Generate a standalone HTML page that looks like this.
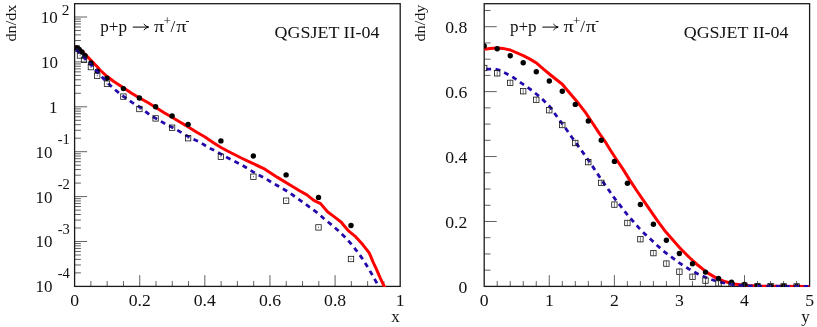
<!DOCTYPE html>
<html><head><meta charset="utf-8"><title>plot</title>
<style>
html,body{margin:0;padding:0;background:#fff;}
body{width:817px;height:327px;overflow:hidden;}
svg{display:block;will-change:transform;}
text{font-family:"Liberation Serif",serif;fill:#111;}
</style></head><body>
<svg width="817" height="327" viewBox="0 0 817 327">
<rect width="817" height="327" fill="#fff"/>
<defs><clipPath id="c1"><rect x="74.6" y="3.7" width="325.6" height="283.3"/></clipPath><clipPath id="c2"><rect x="484.2" y="3.7" width="325.4" height="283.3"/></clipPath></defs>
<g stroke="#444" stroke-width="0.85" fill="none">
<line x1="74.6" x2="80.89999999999999" y1="272.88" y2="272.88"/>
<line x1="74.6" x2="80.89999999999999" y1="264.98" y2="264.98"/>
<line x1="74.6" x2="80.89999999999999" y1="259.37" y2="259.37"/>
<line x1="74.6" x2="80.89999999999999" y1="255.02" y2="255.02"/>
<line x1="74.6" x2="80.89999999999999" y1="251.46" y2="251.46"/>
<line x1="74.6" x2="80.89999999999999" y1="248.46" y2="248.46"/>
<line x1="74.6" x2="80.89999999999999" y1="245.85" y2="245.85"/>
<line x1="74.6" x2="80.89999999999999" y1="243.55" y2="243.55"/>
<line x1="74.6" x2="87.1" y1="241.50" y2="241.50"/>
<line x1="74.6" x2="80.89999999999999" y1="227.98" y2="227.98"/>
<line x1="74.6" x2="80.89999999999999" y1="220.08" y2="220.08"/>
<line x1="74.6" x2="80.89999999999999" y1="214.47" y2="214.47"/>
<line x1="74.6" x2="80.89999999999999" y1="210.12" y2="210.12"/>
<line x1="74.6" x2="80.89999999999999" y1="206.56" y2="206.56"/>
<line x1="74.6" x2="80.89999999999999" y1="203.56" y2="203.56"/>
<line x1="74.6" x2="80.89999999999999" y1="200.95" y2="200.95"/>
<line x1="74.6" x2="80.89999999999999" y1="198.65" y2="198.65"/>
<line x1="74.6" x2="87.1" y1="196.60" y2="196.60"/>
<line x1="74.6" x2="80.89999999999999" y1="183.08" y2="183.08"/>
<line x1="74.6" x2="80.89999999999999" y1="175.18" y2="175.18"/>
<line x1="74.6" x2="80.89999999999999" y1="169.57" y2="169.57"/>
<line x1="74.6" x2="80.89999999999999" y1="165.22" y2="165.22"/>
<line x1="74.6" x2="80.89999999999999" y1="161.66" y2="161.66"/>
<line x1="74.6" x2="80.89999999999999" y1="158.66" y2="158.66"/>
<line x1="74.6" x2="80.89999999999999" y1="156.05" y2="156.05"/>
<line x1="74.6" x2="80.89999999999999" y1="153.75" y2="153.75"/>
<line x1="74.6" x2="87.1" y1="151.70" y2="151.70"/>
<line x1="74.6" x2="80.89999999999999" y1="138.18" y2="138.18"/>
<line x1="74.6" x2="80.89999999999999" y1="130.28" y2="130.28"/>
<line x1="74.6" x2="80.89999999999999" y1="124.67" y2="124.67"/>
<line x1="74.6" x2="80.89999999999999" y1="120.32" y2="120.32"/>
<line x1="74.6" x2="80.89999999999999" y1="116.76" y2="116.76"/>
<line x1="74.6" x2="80.89999999999999" y1="113.76" y2="113.76"/>
<line x1="74.6" x2="80.89999999999999" y1="111.15" y2="111.15"/>
<line x1="74.6" x2="80.89999999999999" y1="108.85" y2="108.85"/>
<line x1="74.6" x2="87.1" y1="106.80" y2="106.80"/>
<line x1="74.6" x2="80.89999999999999" y1="93.28" y2="93.28"/>
<line x1="74.6" x2="80.89999999999999" y1="85.38" y2="85.38"/>
<line x1="74.6" x2="80.89999999999999" y1="79.77" y2="79.77"/>
<line x1="74.6" x2="80.89999999999999" y1="75.42" y2="75.42"/>
<line x1="74.6" x2="80.89999999999999" y1="71.86" y2="71.86"/>
<line x1="74.6" x2="80.89999999999999" y1="68.86" y2="68.86"/>
<line x1="74.6" x2="80.89999999999999" y1="66.25" y2="66.25"/>
<line x1="74.6" x2="80.89999999999999" y1="63.95" y2="63.95"/>
<line x1="74.6" x2="87.1" y1="61.90" y2="61.90"/>
<line x1="74.6" x2="80.89999999999999" y1="48.38" y2="48.38"/>
<line x1="74.6" x2="80.89999999999999" y1="40.48" y2="40.48"/>
<line x1="74.6" x2="80.89999999999999" y1="34.87" y2="34.87"/>
<line x1="74.6" x2="80.89999999999999" y1="30.52" y2="30.52"/>
<line x1="74.6" x2="80.89999999999999" y1="26.96" y2="26.96"/>
<line x1="74.6" x2="80.89999999999999" y1="23.96" y2="23.96"/>
<line x1="74.6" x2="80.89999999999999" y1="21.35" y2="21.35"/>
<line x1="74.6" x2="80.89999999999999" y1="19.05" y2="19.05"/>
<line x1="74.6" x2="87.1" y1="17.00" y2="17.00"/>
<line x1="90.88" x2="90.88" y1="286.4" y2="281.09999999999997"/>
<line x1="107.16" x2="107.16" y1="286.4" y2="281.09999999999997"/>
<line x1="123.44" x2="123.44" y1="286.4" y2="281.09999999999997"/>
<line x1="139.72" x2="139.72" y1="286.4" y2="275.09999999999997"/>
<line x1="156.00" x2="156.00" y1="286.4" y2="281.09999999999997"/>
<line x1="172.28" x2="172.28" y1="286.4" y2="281.09999999999997"/>
<line x1="188.56" x2="188.56" y1="286.4" y2="281.09999999999997"/>
<line x1="204.84" x2="204.84" y1="286.4" y2="275.09999999999997"/>
<line x1="221.12" x2="221.12" y1="286.4" y2="281.09999999999997"/>
<line x1="237.40" x2="237.40" y1="286.4" y2="281.09999999999997"/>
<line x1="253.68" x2="253.68" y1="286.4" y2="281.09999999999997"/>
<line x1="269.96" x2="269.96" y1="286.4" y2="275.09999999999997"/>
<line x1="286.24" x2="286.24" y1="286.4" y2="281.09999999999997"/>
<line x1="302.52" x2="302.52" y1="286.4" y2="281.09999999999997"/>
<line x1="318.80" x2="318.80" y1="286.4" y2="281.09999999999997"/>
<line x1="335.08" x2="335.08" y1="286.4" y2="275.09999999999997"/>
<line x1="351.36" x2="351.36" y1="286.4" y2="281.09999999999997"/>
<line x1="367.64" x2="367.64" y1="286.4" y2="281.09999999999997"/>
<line x1="383.92" x2="383.92" y1="286.4" y2="281.09999999999997"/>
<line x1="484.2" x2="490.5" y1="270.17" y2="270.17"/>
<line x1="484.2" x2="490.5" y1="253.94" y2="253.94"/>
<line x1="484.2" x2="490.5" y1="237.71" y2="237.71"/>
<line x1="484.2" x2="496.7" y1="221.47" y2="221.47"/>
<line x1="484.2" x2="490.5" y1="205.24" y2="205.24"/>
<line x1="484.2" x2="490.5" y1="189.01" y2="189.01"/>
<line x1="484.2" x2="490.5" y1="172.78" y2="172.78"/>
<line x1="484.2" x2="496.7" y1="156.55" y2="156.55"/>
<line x1="484.2" x2="490.5" y1="140.32" y2="140.32"/>
<line x1="484.2" x2="490.5" y1="124.09" y2="124.09"/>
<line x1="484.2" x2="490.5" y1="107.86" y2="107.86"/>
<line x1="484.2" x2="496.7" y1="91.62" y2="91.62"/>
<line x1="484.2" x2="490.5" y1="75.39" y2="75.39"/>
<line x1="484.2" x2="490.5" y1="59.16" y2="59.16"/>
<line x1="484.2" x2="490.5" y1="42.93" y2="42.93"/>
<line x1="484.2" x2="496.7" y1="26.70" y2="26.70"/>
<line x1="484.2" x2="490.5" y1="10.47" y2="10.47"/>
<line x1="497.22" x2="497.22" y1="286.4" y2="281.09999999999997"/>
<line x1="510.23" x2="510.23" y1="286.4" y2="281.09999999999997"/>
<line x1="523.25" x2="523.25" y1="286.4" y2="281.09999999999997"/>
<line x1="536.26" x2="536.26" y1="286.4" y2="281.09999999999997"/>
<line x1="549.28" x2="549.28" y1="286.4" y2="275.09999999999997"/>
<line x1="562.30" x2="562.30" y1="286.4" y2="281.09999999999997"/>
<line x1="575.31" x2="575.31" y1="286.4" y2="281.09999999999997"/>
<line x1="588.33" x2="588.33" y1="286.4" y2="281.09999999999997"/>
<line x1="601.34" x2="601.34" y1="286.4" y2="281.09999999999997"/>
<line x1="614.36" x2="614.36" y1="286.4" y2="275.09999999999997"/>
<line x1="627.38" x2="627.38" y1="286.4" y2="281.09999999999997"/>
<line x1="640.39" x2="640.39" y1="286.4" y2="281.09999999999997"/>
<line x1="653.41" x2="653.41" y1="286.4" y2="281.09999999999997"/>
<line x1="666.42" x2="666.42" y1="286.4" y2="281.09999999999997"/>
<line x1="679.44" x2="679.44" y1="286.4" y2="275.09999999999997"/>
<line x1="692.46" x2="692.46" y1="286.4" y2="281.09999999999997"/>
<line x1="705.47" x2="705.47" y1="286.4" y2="281.09999999999997"/>
<line x1="718.49" x2="718.49" y1="286.4" y2="281.09999999999997"/>
<line x1="731.50" x2="731.50" y1="286.4" y2="281.09999999999997"/>
<line x1="744.52" x2="744.52" y1="286.4" y2="275.09999999999997"/>
<line x1="757.54" x2="757.54" y1="286.4" y2="281.09999999999997"/>
<line x1="770.55" x2="770.55" y1="286.4" y2="281.09999999999997"/>
<line x1="783.57" x2="783.57" y1="286.4" y2="281.09999999999997"/>
<line x1="796.58" x2="796.58" y1="286.4" y2="281.09999999999997"/>
</g>
<g fill="none" stroke="#1a1a1a" stroke-width="1.3">
<rect x="74.6" y="3.7" width="325.6" height="282.7"/>
<rect x="484.2" y="3.7" width="325.4" height="282.7"/>
</g>
<g clip-path="url(#c1)">
<path d="M74.6,46.2 L77.5,47.8 L81.0,50.5 L84.1,53.2 L88.3,57.6 L93.3,62.8 L97.5,67.0 L100.0,70.0 L106.9,76.3 L113.8,81.5 L123.4,87.7 L131.6,93.2 L139.6,98.0 L148.2,102.8 L155.8,107.5 L163.8,112.5 L172.0,117.3 L180.3,122.2 L188.3,126.9 L196.8,132.2 L205.0,137.0 L213.8,143.0 L220.6,147.2 L227.5,151.0 L241.3,158.0 L250.0,162.1 L263.8,168.6 L277.5,177.4 L291.3,185.8 L300.0,191.0 L306.9,194.9 L313.8,200.4 L320.6,203.6 L327.5,211.8 L334.4,216.9 L341.3,222.2 L343.5,225.0 L348.8,231.2 L355.6,236.7 L362.5,244.3 L369.4,253.2 L373.0,261.9 L376.5,269.3 L380.3,278.1 L384.2,286.4 L385.0,288.0" fill="none" stroke="#ff0000" stroke-width="3.0" stroke-linejoin="round"/>
<circle cx="76.9" cy="47.9" r="2.7" fill="#000"/><circle cx="79.2" cy="49.4" r="2.7" fill="#000"/><circle cx="81.9" cy="52.0" r="2.7" fill="#000"/><circle cx="85.1" cy="55.8" r="2.7" fill="#000"/><circle cx="90.9" cy="62.9" r="2.7" fill="#000"/><circle cx="97.2" cy="71.1" r="2.7" fill="#000"/><circle cx="106.9" cy="78.2" r="2.7" fill="#000"/><circle cx="123.4" cy="88.6" r="2.7" fill="#000"/><circle cx="139.4" cy="98.0" r="2.7" fill="#000"/><circle cx="155.6" cy="106.8" r="2.7" fill="#000"/><circle cx="172.1" cy="115.9" r="2.7" fill="#000"/><circle cx="188.1" cy="124.4" r="2.7" fill="#000"/><circle cx="220.9" cy="140.9" r="2.7" fill="#000"/><circle cx="253.4" cy="156.0" r="2.7" fill="#000"/><circle cx="286.1" cy="174.9" r="2.7" fill="#000"/><circle cx="318.5" cy="197.4" r="2.7" fill="#000"/><circle cx="351.0" cy="225.5" r="2.7" fill="#000"/>
<path d="M74.6,48.8 L78.0,51.5 L84.0,57.5 L90.5,64.3 L97.2,71.5 L100.0,75.0 L106.9,82.2 L115.1,89.8 L123.4,96.4 L131.6,102.2 L139.6,107.0 L150.0,115.0 L158.3,119.8 L166.5,124.6 L174.8,128.7 L183.0,133.5 L191.3,138.3 L200.0,142.2 L208.3,147.4 L216.5,151.5 L224.8,156.3 L233.0,160.5 L241.3,164.6 L250.0,170.0 L256.9,174.1 L265.1,178.2 L272.7,183.0 L280.3,187.2 L288.5,192.0 L302.8,202.2 L310.3,207.7 L317.9,213.2 L324.8,219.4 L331.7,224.9 L338.4,230.8 L345.3,237.4 L351.5,244.3 L356.7,250.9 L362.0,258.1 L366.7,265.5 L371.3,273.2 L375.9,281.4 L379.0,286.6" fill="none" stroke="#2408ad" stroke-width="2.8" stroke-dasharray="4.9 4.4" stroke-dashoffset="7.46"/>
<rect x="74.2" y="45.8" width="5.4" height="5.4" fill="none" stroke="#111" stroke-width="0.78"/><line x1="76.9" x2="76.9" y1="47.8" y2="49.2" stroke="#444" stroke-width="0.7"/><rect x="77.3" y="52.8" width="5.4" height="5.4" fill="none" stroke="#111" stroke-width="0.78"/><line x1="80.0" x2="80.0" y1="54.8" y2="56.2" stroke="#444" stroke-width="0.7"/><rect x="81.3" y="57.1" width="5.4" height="5.4" fill="none" stroke="#111" stroke-width="0.78"/><line x1="84.0" x2="84.0" y1="59.1" y2="60.5" stroke="#444" stroke-width="0.7"/><rect x="88.2" y="64.4" width="5.4" height="5.4" fill="none" stroke="#111" stroke-width="0.78"/><line x1="90.9" x2="90.9" y1="66.4" y2="67.8" stroke="#444" stroke-width="0.7"/><rect x="94.5" y="73.0" width="5.4" height="5.4" fill="none" stroke="#111" stroke-width="0.78"/><line x1="97.2" x2="97.2" y1="75.0" y2="76.4" stroke="#444" stroke-width="0.7"/><rect x="104.3" y="81.0" width="5.4" height="5.4" fill="none" stroke="#111" stroke-width="0.78"/><line x1="107.0" x2="107.0" y1="83.0" y2="84.4" stroke="#444" stroke-width="0.7"/><rect x="120.7" y="93.9" width="5.4" height="5.4" fill="none" stroke="#111" stroke-width="0.78"/><line x1="123.4" x2="123.4" y1="95.9" y2="97.3" stroke="#444" stroke-width="0.7"/><rect x="136.7" y="106.3" width="5.4" height="5.4" fill="none" stroke="#111" stroke-width="0.78"/><line x1="139.4" x2="139.4" y1="108.3" y2="109.7" stroke="#444" stroke-width="0.7"/><rect x="152.9" y="115.7" width="5.4" height="5.4" fill="none" stroke="#111" stroke-width="0.78"/><line x1="155.6" x2="155.6" y1="117.7" y2="119.1" stroke="#444" stroke-width="0.7"/><rect x="169.4" y="125.0" width="5.4" height="5.4" fill="none" stroke="#111" stroke-width="0.78"/><line x1="172.1" x2="172.1" y1="127.0" y2="128.4" stroke="#444" stroke-width="0.7"/><rect x="185.4" y="135.5" width="5.4" height="5.4" fill="none" stroke="#111" stroke-width="0.78"/><line x1="188.1" x2="188.1" y1="137.5" y2="138.9" stroke="#444" stroke-width="0.7"/><rect x="218.2" y="154.0" width="5.4" height="5.4" fill="none" stroke="#111" stroke-width="0.78"/><line x1="220.9" x2="220.9" y1="156.0" y2="157.4" stroke="#444" stroke-width="0.7"/><rect x="250.7" y="174.0" width="5.4" height="5.4" fill="none" stroke="#111" stroke-width="0.78"/><line x1="253.4" x2="253.4" y1="176.0" y2="177.4" stroke="#444" stroke-width="0.7"/><rect x="283.4" y="198.0" width="5.4" height="5.4" fill="none" stroke="#111" stroke-width="0.78"/><line x1="286.1" x2="286.1" y1="200.0" y2="201.4" stroke="#444" stroke-width="0.7"/><rect x="315.8" y="224.7" width="5.4" height="5.4" fill="none" stroke="#111" stroke-width="0.78"/><line x1="318.5" x2="318.5" y1="226.7" y2="228.1" stroke="#444" stroke-width="0.7"/><rect x="348.3" y="256.3" width="5.4" height="5.4" fill="none" stroke="#111" stroke-width="0.78"/><line x1="351.0" x2="351.0" y1="258.3" y2="259.7" stroke="#444" stroke-width="0.7"/>
</g>
<g clip-path="url(#c2)">
<path d="M484.2,49.3 L490.0,48.4 L497.2,47.9 L503.0,48.4 L510.3,50.0 L523.3,55.7 L530.0,59.1 L536.9,63.3 L543.8,69.4 L550.6,75.0 L557.5,80.5 L562.3,84.2 L567.1,90.0 L573.3,97.2 L578.8,103.8 L585.6,112.7 L588.4,116.8 L592.5,123.0 L599.5,133.6 L605.1,141.5 L610.6,150.5 L617.3,160.8 L623.3,169.6 L630.1,180.6 L637.0,191.0 L643.4,200.3 L650.3,210.3 L657.9,221.3 L665.5,231.6 L672.0,238.9 L679.7,247.8 L688.9,257.0 L698.0,265.3 L707.2,272.6 L716.4,278.1 L725.6,281.8 L734.7,284.0 L745.0,285.4 L760.0,286.1 L775.0,286.3 L811.0,286.4" fill="none" stroke="#ff0000" stroke-width="3.0" stroke-linejoin="round"/>
<circle cx="484.2" cy="46.0" r="2.7" fill="#000"/><circle cx="497.2" cy="48.7" r="2.7" fill="#000"/><circle cx="510.2" cy="55.8" r="2.7" fill="#000"/><circle cx="523.2" cy="62.8" r="2.7" fill="#000"/><circle cx="536.3" cy="71.8" r="2.7" fill="#000"/><circle cx="549.3" cy="81.0" r="2.7" fill="#000"/><circle cx="562.3" cy="91.3" r="2.7" fill="#000"/><circle cx="575.3" cy="104.4" r="2.7" fill="#000"/><circle cx="588.3" cy="121.0" r="2.7" fill="#000"/><circle cx="601.3" cy="140.3" r="2.7" fill="#000"/><circle cx="614.4" cy="161.4" r="2.7" fill="#000"/><circle cx="627.4" cy="183.3" r="2.7" fill="#000"/><circle cx="640.4" cy="204.5" r="2.7" fill="#000"/><circle cx="653.4" cy="224.3" r="2.7" fill="#000"/><circle cx="666.4" cy="240.3" r="2.7" fill="#000"/><circle cx="679.4" cy="253.5" r="2.7" fill="#000"/><circle cx="692.5" cy="263.8" r="2.7" fill="#000"/><circle cx="705.5" cy="272.1" r="2.7" fill="#000"/><circle cx="718.5" cy="278.4" r="2.7" fill="#000"/><circle cx="731.5" cy="282.3" r="2.7" fill="#000"/><circle cx="744.5" cy="284.5" r="2.7" fill="#000"/><circle cx="757.5" cy="285.6" r="2.7" fill="#000"/><circle cx="770.6" cy="286.1" r="2.7" fill="#000"/><circle cx="783.6" cy="286.3" r="2.7" fill="#000"/><circle cx="796.6" cy="286.4" r="2.7" fill="#000"/>
<path d="M484.2,69.1 L495.0,69.0 L499.0,70.0 L504.2,72.5 L513.3,77.4 L522.5,83.9 L531.7,90.3 L540.9,97.6 L550.0,106.8 L552.8,111.0 L559.2,119.6 L565.6,128.3 L572.0,137.5 L579.4,147.6 L586.7,157.7 L590.5,163.2 L596.0,171.5 L602.4,181.1 L608.9,190.3 L615.3,199.4 L620.5,205.9 L626.9,214.2 L633.3,221.5 L638.9,227.9 L645.3,234.4 L651.7,240.2 L658.1,246.3 L664.5,251.8 L671.9,257.3 L679.7,263.2 L688.9,269.0 L698.0,273.9 L707.2,278.1 L716.4,281.2 L725.6,283.4 L734.7,284.9 L745.0,285.7 L760.0,286.2 L811.0,286.4" fill="none" stroke="#2408ad" stroke-width="2.8" stroke-dasharray="4.9 4.4" stroke-dashoffset="7.28"/>
<rect x="481.5" y="65.3" width="5.4" height="5.4" fill="none" stroke="#111" stroke-width="0.78"/><line x1="484.2" x2="484.2" y1="64.8" y2="71.2" stroke="#444" stroke-width="0.7"/><rect x="494.5" y="70.6" width="5.4" height="5.4" fill="none" stroke="#111" stroke-width="0.78"/><line x1="497.2" x2="497.2" y1="70.1" y2="76.5" stroke="#444" stroke-width="0.7"/><rect x="507.5" y="80.2" width="5.4" height="5.4" fill="none" stroke="#111" stroke-width="0.78"/><line x1="510.2" x2="510.2" y1="79.7" y2="86.1" stroke="#444" stroke-width="0.7"/><rect x="520.5" y="88.5" width="5.4" height="5.4" fill="none" stroke="#111" stroke-width="0.78"/><line x1="523.2" x2="523.2" y1="88.0" y2="94.4" stroke="#444" stroke-width="0.7"/><rect x="533.6" y="97.1" width="5.4" height="5.4" fill="none" stroke="#111" stroke-width="0.78"/><line x1="536.3" x2="536.3" y1="96.6" y2="103.0" stroke="#444" stroke-width="0.7"/><rect x="546.6" y="107.5" width="5.4" height="5.4" fill="none" stroke="#111" stroke-width="0.78"/><line x1="549.3" x2="549.3" y1="107.0" y2="113.4" stroke="#444" stroke-width="0.7"/><rect x="559.6" y="122.3" width="5.4" height="5.4" fill="none" stroke="#111" stroke-width="0.78"/><line x1="562.3" x2="562.3" y1="121.8" y2="128.2" stroke="#444" stroke-width="0.7"/><rect x="572.6" y="140.3" width="5.4" height="5.4" fill="none" stroke="#111" stroke-width="0.78"/><line x1="575.3" x2="575.3" y1="139.8" y2="146.2" stroke="#444" stroke-width="0.7"/><rect x="585.6" y="159.4" width="5.4" height="5.4" fill="none" stroke="#111" stroke-width="0.78"/><line x1="588.3" x2="588.3" y1="158.9" y2="165.3" stroke="#444" stroke-width="0.7"/><rect x="598.6" y="180.2" width="5.4" height="5.4" fill="none" stroke="#111" stroke-width="0.78"/><line x1="601.3" x2="601.3" y1="179.7" y2="186.1" stroke="#444" stroke-width="0.7"/><rect x="611.7" y="201.9" width="5.4" height="5.4" fill="none" stroke="#111" stroke-width="0.78"/><line x1="614.4" x2="614.4" y1="201.4" y2="207.8" stroke="#444" stroke-width="0.7"/><rect x="624.7" y="220.3" width="5.4" height="5.4" fill="none" stroke="#111" stroke-width="0.78"/><line x1="627.4" x2="627.4" y1="219.8" y2="226.2" stroke="#444" stroke-width="0.7"/><rect x="637.7" y="236.5" width="5.4" height="5.4" fill="none" stroke="#111" stroke-width="0.78"/><line x1="640.4" x2="640.4" y1="236.0" y2="242.4" stroke="#444" stroke-width="0.7"/><rect x="650.7" y="250.4" width="5.4" height="5.4" fill="none" stroke="#111" stroke-width="0.78"/><line x1="653.4" x2="653.4" y1="249.9" y2="256.3" stroke="#444" stroke-width="0.7"/><rect x="663.7" y="260.9" width="5.4" height="5.4" fill="none" stroke="#111" stroke-width="0.78"/><line x1="666.4" x2="666.4" y1="260.4" y2="266.8" stroke="#444" stroke-width="0.7"/><rect x="676.7" y="269.0" width="5.4" height="5.4" fill="none" stroke="#111" stroke-width="0.78"/><line x1="679.4" x2="679.4" y1="268.5" y2="274.9" stroke="#444" stroke-width="0.7"/><rect x="689.8" y="274.1" width="5.4" height="5.4" fill="none" stroke="#111" stroke-width="0.78"/><line x1="692.5" x2="692.5" y1="273.6" y2="280.0" stroke="#444" stroke-width="0.7"/><rect x="702.8" y="277.9" width="5.4" height="5.4" fill="none" stroke="#111" stroke-width="0.78"/><line x1="705.5" x2="705.5" y1="277.4" y2="283.8" stroke="#444" stroke-width="0.7"/><rect x="715.8" y="280.8" width="5.4" height="5.4" fill="none" stroke="#111" stroke-width="0.78"/><line x1="718.5" x2="718.5" y1="280.3" y2="286.7" stroke="#444" stroke-width="0.7"/><rect x="728.8" y="282.3" width="5.4" height="5.4" fill="none" stroke="#111" stroke-width="0.78"/><line x1="731.5" x2="731.5" y1="281.8" y2="288.2" stroke="#444" stroke-width="0.7"/><rect x="741.8" y="283.1" width="5.4" height="5.4" fill="none" stroke="#111" stroke-width="0.78"/><line x1="744.5" x2="744.5" y1="282.6" y2="289.0" stroke="#444" stroke-width="0.7"/><rect x="754.8" y="283.5" width="5.4" height="5.4" fill="none" stroke="#111" stroke-width="0.78"/><line x1="757.5" x2="757.5" y1="283.0" y2="289.4" stroke="#444" stroke-width="0.7"/><rect x="767.9" y="283.6" width="5.4" height="5.4" fill="none" stroke="#111" stroke-width="0.78"/><line x1="770.6" x2="770.6" y1="283.1" y2="289.5" stroke="#444" stroke-width="0.7"/><rect x="780.9" y="283.7" width="5.4" height="5.4" fill="none" stroke="#111" stroke-width="0.78"/><line x1="783.6" x2="783.6" y1="283.2" y2="289.6" stroke="#444" stroke-width="0.7"/><rect x="793.9" y="283.7" width="5.4" height="5.4" fill="none" stroke="#111" stroke-width="0.78"/><line x1="796.6" x2="796.6" y1="283.2" y2="289.6" stroke="#444" stroke-width="0.7"/>
</g>
<text font-size="17" text-anchor="middle" transform="translate(74.6,305.6) scale(1.04,1)">0</text><text font-size="17" text-anchor="middle" transform="translate(139.7,305.6) scale(1.04,1)">0.2</text><text font-size="17" text-anchor="middle" transform="translate(204.8,305.6) scale(1.04,1)">0.4</text><text font-size="17" text-anchor="middle" transform="translate(270.0,305.6) scale(1.04,1)">0.6</text><text font-size="17" text-anchor="middle" transform="translate(335.1,305.6) scale(1.04,1)">0.8</text><text font-size="17" text-anchor="middle" transform="translate(400.2,305.6) scale(1.04,1)">1</text><text font-size="17" text-anchor="middle" transform="translate(484.2,305.6) scale(1.04,1)">0</text><text font-size="17" text-anchor="middle" transform="translate(549.3,305.6) scale(1.04,1)">1</text><text font-size="17" text-anchor="middle" transform="translate(614.4,305.6) scale(1.04,1)">2</text><text font-size="17" text-anchor="middle" transform="translate(679.4,305.6) scale(1.04,1)">3</text><text font-size="17" text-anchor="middle" transform="translate(744.5,305.6) scale(1.04,1)">4</text><text font-size="17" text-anchor="middle" transform="translate(809.6,305.6) scale(1.04,1)">5</text>
<text font-size="17" text-anchor="end" transform="translate(467.3,292.7) scale(1.04,1)">0</text><text font-size="17" text-anchor="end" transform="translate(467.3,227.8) scale(1.04,1)">0.2</text><text font-size="17" text-anchor="end" transform="translate(467.3,162.8) scale(1.04,1)">0.4</text><text font-size="17" text-anchor="end" transform="translate(467.3,97.9) scale(1.04,1)">0.6</text><text font-size="17" text-anchor="end" transform="translate(467.3,33.0) scale(1.04,1)">0.8</text>
<text font-size="16" text-anchor="end" transform="translate(399.8,322.4) scale(1.06,1)">x</text><text font-size="16" text-anchor="end" transform="translate(809.6,322.2) scale(1.06,1)">y</text>
<text font-size="16.5" text-anchor="end" transform="translate(52.4,292.3) scale(1.03,1)">10</text><text font-size="14" transform="translate(57.7,278.4) scale(1.04,1)">-4</text><text font-size="16.5" text-anchor="end" transform="translate(52.4,247.4) scale(1.03,1)">10</text><text font-size="14" transform="translate(57.7,233.5) scale(1.04,1)">-3</text><text font-size="16.5" text-anchor="end" transform="translate(52.4,202.5) scale(1.03,1)">10</text><text font-size="14" transform="translate(57.7,188.6) scale(1.04,1)">-2</text><text font-size="16.5" text-anchor="end" transform="translate(52.4,157.6) scale(1.03,1)">10</text><text font-size="14" transform="translate(57.7,143.7) scale(1.04,1)">-1</text><text font-size="16.5" text-anchor="end" transform="translate(57.6,112.8) scale(1.03,1)">1</text><text font-size="16.5" text-anchor="end" transform="translate(57.9,67.9) scale(1.03,1)">10</text><text font-size="16.5" text-anchor="end" transform="translate(57.7,22.9) scale(1.03,1)">10</text><text font-size="14" transform="translate(61.7,14.9) scale(1.1,1)">2</text>
<text font-size="15" transform="translate(16.0,41.5) rotate(-90) scale(1.08,1)">dn/dx</text><text font-size="15" transform="translate(425.0,41.5) rotate(-90) scale(1.08,1)">dn/dy</text>
<text font-size="16" transform="translate(100.3,32.4) scale(1.07,1)">p+p</text>
<path d="M132.8,27.1 L148.6,27.1 M143.8,24.0 Q145.6,26.400000000000002 148.6,27.1 Q145.6,27.8 143.8,30.200000000000003" fill="none" stroke="#000" stroke-width="1.0"/>
<text font-size="16" transform="translate(154.0,32.4) scale(1.27,1)">π</text><text font-size="13" transform="translate(163.4,25.3)">+</text><text font-size="16" transform="translate(170.6,32.4) scale(1.07,1)">/</text><text font-size="16" transform="translate(176.2,32.4) scale(1.27,1)">π</text><text font-size="11.5" transform="translate(185.6,24.0)">-</text><text font-size="16.7" transform="translate(274.6,37.6) scale(1.075,1)">QGSJET II-04</text>
<text font-size="16" transform="translate(509.9,32.4) scale(1.07,1)">p+p</text>
<path d="M542.4,27.1 L558.2,27.1 M553.4,24.0 Q555.2,26.400000000000002 558.2,27.1 Q555.2,27.8 553.4,30.200000000000003" fill="none" stroke="#000" stroke-width="1.0"/>
<text font-size="16" transform="translate(563.6,32.4) scale(1.27,1)">π</text><text font-size="13" transform="translate(573.0,25.3)">+</text><text font-size="16" transform="translate(580.2,32.4) scale(1.07,1)">/</text><text font-size="16" transform="translate(585.8,32.4) scale(1.27,1)">π</text><text font-size="11.5" transform="translate(595.2,24.0)">-</text><text font-size="16.7" transform="translate(683.7,37.6) scale(1.075,1)">QGSJET II-04</text>
</svg>
</body></html>
